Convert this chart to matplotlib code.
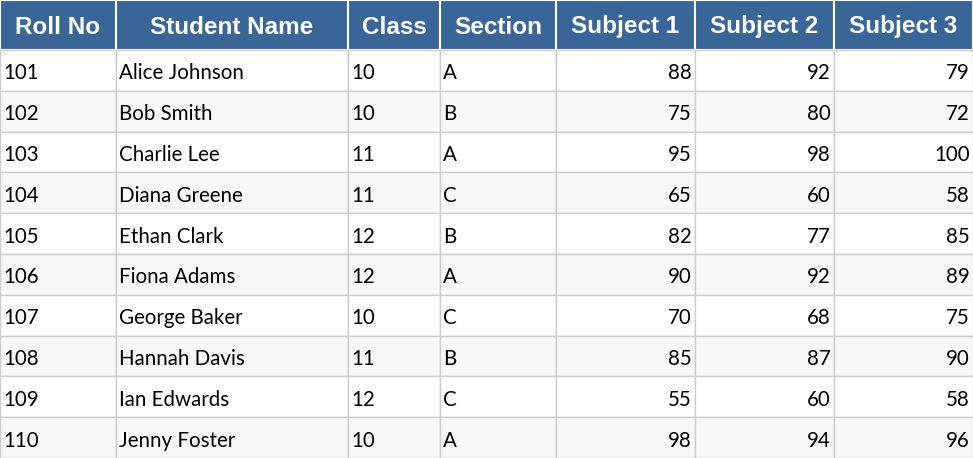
import matplotlib
matplotlib.use("Agg")
import matplotlib.pyplot as plt
from matplotlib.patches import Rectangle

headers = ["Roll No", "Student Name", "Class", "Section", "Subject 1", "Subject 2", "Subject 3"]
roll_no = [101, 102, 103, 104, 105, 106, 107, 108, 109, 110]
names = ["Alice Johnson", "Bob Smith", "Charlie Lee", "Diana Greene", "Ethan Clark",
         "Fiona Adams", "George Baker", "Hannah Davis", "Ian Edwards", "Jenny Foster"]
classes = [10, 10, 11, 11, 12, 12, 10, 11, 12, 10]
sections = ["A", "B", "A", "C", "B", "A", "C", "B", "C", "A"]
subject1 = [88, 75, 95, 65, 82, 90, 70, 85, 55, 98]
subject2 = [92, 80, 98, 60, 77, 92, 68, 87, 60, 94]
subject3 = [79, 72, 100, 58, 85, 89, 75, 90, 58, 96]

W, H = 973, 458
col_edges = [0, 116, 348, 440, 556, 695, 834, 973]
aligns = ["left", "left", "left", "left", "right", "right", "right"]
header_h = 50
row_h = (H - header_h) / len(roll_no)

fig = plt.figure(figsize=(W / 100, H / 100), dpi=100)
ax = fig.add_axes([0, 0, 1, 1])
ax.set_xlim(0, W)
ax.set_ylim(H, 0)
ax.axis("off")

hdr_color = "#3a6597"
for j, h in enumerate(headers):
    x0, x1 = col_edges[j], col_edges[j + 1]
    ax.add_patch(Rectangle((x0, 0), x1 - x0, header_h, facecolor=hdr_color,
                           edgecolor="white", linewidth=1.5))
    ax.text((x0 + x1) / 2, header_h / 2 + 2, h, ha="center", va="center", color="white",
            fontsize=17.5, fontweight="bold", family=["Liberation Sans", "DejaVu Sans"])

rows = list(zip(roll_no, names, classes, sections, subject1, subject2, subject3))
for i, row in enumerate(rows):
    y0 = header_h + i * row_h
    bg = "white" if i % 2 == 0 else "#f7f7f7"
    for j, val in enumerate(row):
        x0, x1 = col_edges[j], col_edges[j + 1]
        ax.add_patch(Rectangle((x0, y0), x1 - x0, row_h, facecolor=bg,
                               edgecolor="#cccccc", linewidth=1))
        tx = x0 + 3 if aligns[j] == "left" else x1 - 3
        ax.text(tx, y0 + row_h / 2 + 3, str(val), ha=aligns[j], va="center",
                color="black", fontsize=14.8, family=["Lato", "DejaVu Sans"])

fig.savefig("out.png", dpi=100)
